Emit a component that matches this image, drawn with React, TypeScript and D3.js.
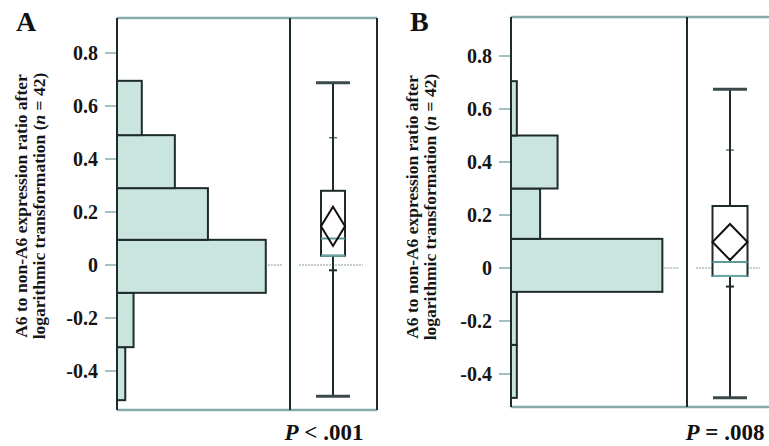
import React from 'react';
import * as d3 from 'd3';

// histogram bins (edges) and counts, n = 42
const aEdges = [-0.51, -0.31, -0.105, 0.095, 0.29, 0.49, 0.695];
const aCounts = [1, 2, 18, 11, 7, 3];
const bEdges = [-0.49, -0.29, -0.09, 0.11, 0.3, 0.5, 0.705];
const bCounts = [1, 1, 26, 5, 8, 1];

// box plot: [low whisker, q1, median, q3, high whisker]
const aBox = [-0.495, 0.035, 0.1, 0.28, 0.688];
const bBox = [-0.49, -0.03, 0.023, 0.234, 0.675];
// mean diamond: [mean, half width of CI]
const aMean = [0.146, 0.074];
const bMean = [0.098, 0.068];
// small quantile marks on the whisker
const aMarks = [-0.02, 0.48];
const bMarks = [-0.07, 0.445];

const yTicks = [-0.4, -0.2, 0, 0.2, 0.4, 0.6, 0.8];
const titleLine1 = 'A6 to non-A6 expression ratio after';
const pLabels = ['P < .001', 'P = .008'];

const serif = '"Liberation Serif", "DejaVu Serif", serif';
const dark = '#1e2b2b';
const teal = '#86abab';
const fill = '#cae4de';

const fmt = (v) => (v === 0 ? '0' : v.toFixed(1));

function Panel({letter, edges, counts, box, mean, marks, p, lay}) {
    const y = d3.scaleLinear().domain([-0.4, 0.8]).range([lay.yLo, lay.yHi]);
    const histW = lay.divider - lay.left;
    const x = d3.scaleLinear().domain([0, d3.max(counts) / 0.86]).range([0, histW]);
    const maxI = counts.indexOf(d3.max(counts));
    const cx = lay.boxCx;
    const bw = lay.boxW;
    const capW = 34;
    return (
        <g>
            <text x={lay.letterX} y={31} fontFamily={serif} fontWeight="bold" fontSize={28} fill="#111">{letter}</text>
            <g transform={`translate(${lay.titleX}, ${lay.titleY}) rotate(-90)`} fontFamily={serif} fontWeight="bold" fontSize={17.5} fill="#151515" textAnchor="middle">
                <text x={0} y={0}>{titleLine1}</text>
                <text x={0} y={17.5}>logarithmic transformation (<tspan fontStyle="italic">n</tspan> = 42)</text>
            </g>
            {yTicks.map(t => (
                <g key={t}>
                    <line x1={lay.left - 12} x2={lay.left} y1={y(t)} y2={y(t)} stroke={teal} strokeWidth={1.5} />
                    <text x={lay.left - 19} y={y(t) + 7} textAnchor="end" fontFamily={serif} fontWeight="bold" fontSize={20} fill="#151515">{fmt(t)}</text>
                </g>
            ))}
            {counts.map((c, i) => (
                <rect key={i} x={lay.left} y={y(edges[i + 1])} width={x(c)} height={y(edges[i]) - y(edges[i + 1])}
                      fill={fill} stroke={dark} strokeWidth={2} />
            ))}
            <line x1={lay.left + x(counts[maxI]) + 2} x2={lay.left + x(counts[maxI]) + 16} y1={y(0)} y2={y(0)}
                  stroke="#8a9a9a" strokeWidth={1.2} strokeDasharray="2,1" />
            {/* box plot */}
            <line x1={lay.divider + 9} x2={lay.divider + 73} y1={y(0)} y2={y(0)} stroke="#8a9a9a" strokeWidth={1.2} strokeDasharray="2,1" />
            <line x1={cx} x2={cx} y1={y(box[0])} y2={y(box[4])} stroke={dark} strokeWidth={2} />
            <line x1={cx - capW / 2} x2={cx + capW / 2} y1={y(box[4])} y2={y(box[4])} stroke="#3a4a4a" strokeWidth={3} />
            <line x1={cx - capW / 2} x2={cx + capW / 2} y1={y(box[0])} y2={y(box[0])} stroke="#3a4a4a" strokeWidth={3} />
            {marks.map((m, i) => (
                <line key={i} x1={cx - 4} x2={cx + 4} y1={y(m)} y2={y(m)} stroke={dark} strokeWidth={i === 0 ? 2 : 1} />
            ))}
            <rect x={cx - bw / 2} y={y(box[3])} width={bw} height={y(box[1]) - y(box[3])} fill="white" stroke={dark} strokeWidth={2} />
            <line x1={cx - bw / 2} x2={cx + bw / 2} y1={y(box[2])} y2={y(box[2])} stroke="#5f9a9a" strokeWidth={2} />
            <line x1={cx - bw / 2} x2={cx + bw / 2} y1={y(box[1])} y2={y(box[1])} stroke="#6aa6a6" strokeWidth={2} />
            <path d={`M${cx},${y(mean[0] + mean[1])} L${cx + bw / 2},${y(mean[0])} L${cx},${y(mean[0] - mean[1])} L${cx - bw / 2},${y(mean[0])} Z`}
                  fill="none" stroke="#111" strokeWidth={2} />
            {/* frame */}
            <line x1={lay.left} x2={lay.right} y1={lay.top} y2={lay.top} stroke={teal} strokeWidth={2.5} />
            <line x1={lay.left} x2={lay.right} y1={lay.bottom} y2={lay.bottom} stroke={teal} strokeWidth={2.5} />
            <line x1={lay.left} x2={lay.left} y1={lay.top} y2={lay.bottom} stroke={dark} strokeWidth={2} />
            <line x1={lay.divider} x2={lay.divider} y1={lay.top} y2={lay.bottom} stroke={dark} strokeWidth={2} />
            <line x1={lay.right} x2={lay.right} y1={lay.top} y2={lay.bottom} stroke={dark} strokeWidth={2} />
            <text x={lay.pX} y={440} textAnchor="middle" fontFamily={serif} fontWeight="bold" fontSize={23} fill="#111">
                <tspan fontStyle="italic">P</tspan>{p.slice(1)}
            </text>
        </g>
    );
}

export default function App() {
    const layA = {left: 117, divider: 290, right: 377, top: 18, bottom: 410, yLo: 371, yHi: 53, boxCx: 333, boxW: 24,
        letterX: 16, titleX: 27, titleY: 206, pX: 324};
    const layB = {left: 511, divider: 687, right: 773, top: 17, bottom: 407, yLo: 374, yHi: 56, boxCx: 730, boxW: 35,
        letterX: 410, titleX: 418, titleY: 207, pX: 725};
    return (
        <svg width={769} height={446} style={{position: 'absolute', left: 0, top: 0, background: 'white'}}>
            <Panel letter="A" edges={aEdges} counts={aCounts} box={aBox} mean={aMean} marks={aMarks} p={pLabels[0]} lay={layA} />
            <Panel letter="B" edges={bEdges} counts={bCounts} box={bBox} mean={bMean} marks={bMarks} p={pLabels[1]} lay={layB} />
        </svg>
    );
}
